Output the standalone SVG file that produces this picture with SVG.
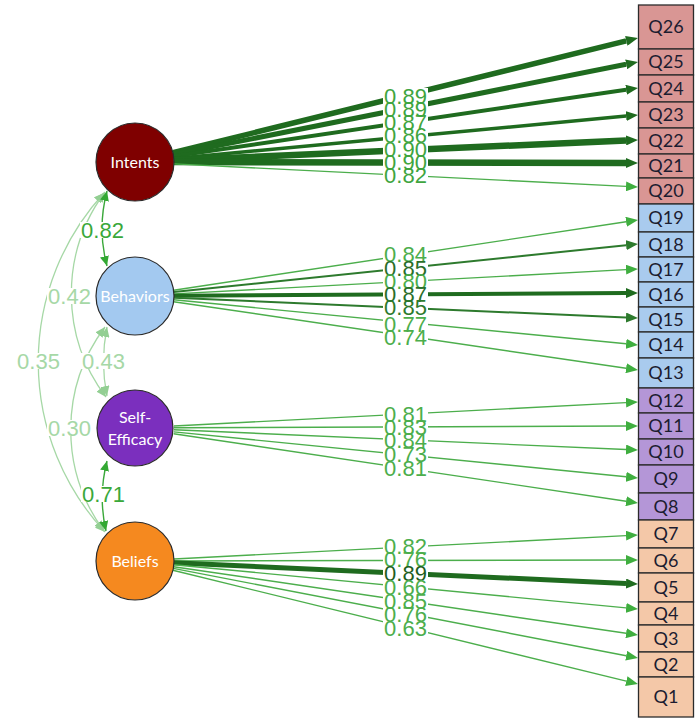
<svg xmlns="http://www.w3.org/2000/svg" width="700" height="721" viewBox="0 0 700 721">
<style>
.ed{stroke:#1f6b1f;fill:none}
.em{stroke:#2d7a2d;fill:none;stroke-width:2}
.el{stroke:#4cae4c;fill:none;stroke-width:1.4}
.cm{stroke:#3aa83a;fill:none;stroke-width:1.4}
.cl{stroke:#a6d8a6;fill:none;stroke-width:1.3}
.lb{font-family:"Liberation Sans",Arial,sans-serif;font-size:22px;text-anchor:middle}
.nt{font-family:Lato,"Liberation Sans",sans-serif;font-size:16px;fill:#ffffff;text-anchor:middle}
.qt{font-family:Lato,"Liberation Sans",sans-serif;font-size:18px;fill:#1c1c30;text-anchor:middle}
.box{stroke:#2b2b2b;stroke-width:1.3}
.ci{stroke:#2a2a2a;stroke-width:1.2}
</style>
<defs>
<marker id="ad" markerUnits="userSpaceOnUse" markerWidth="12" markerHeight="10" viewBox="0 0 12 10" refX="0" refY="5" orient="auto"><path d="M0,0 L12,5 L0,10 z" fill="#1f6b1f"/></marker>
<marker id="am" markerUnits="userSpaceOnUse" markerWidth="12" markerHeight="10" viewBox="0 0 12 10" refX="0" refY="5" orient="auto"><path d="M0,0 L12,5 L0,10 z" fill="#2d7a2d"/></marker>
<marker id="al" markerUnits="userSpaceOnUse" markerWidth="12" markerHeight="10" viewBox="0 0 12 10" refX="0" refY="5" orient="auto"><path d="M0,0 L12,5 L0,10 z" fill="#3fae3f"/></marker>
<marker id="cm" markerUnits="userSpaceOnUse" markerWidth="10" markerHeight="9" viewBox="0 0 10 9" refX="10" refY="4.5" orient="auto-start-reverse"><path d="M0,0 L10,4.5 L0,9 z" fill="#33a833"/></marker>
<marker id="cl" markerUnits="userSpaceOnUse" markerWidth="10" markerHeight="9" viewBox="0 0 10 9" refX="10" refY="4.5" orient="auto-start-reverse"><path d="M0,0 L10,4.5 L0,9 z" fill="#93cf93"/></marker>
</defs>

<g id="connectors">
<line class="ed" stroke-width="5.5" x1="172.9" y1="152.7" x2="626.3" y2="40.9" marker-end="url(#ad)"/>
<line class="ed" stroke-width="5" x1="173.3" y1="154.4" x2="626.2" y2="64.3" marker-end="url(#ad)"/>
<line class="ed" stroke-width="4" x1="173.6" y1="156.3" x2="626.1" y2="89.7" marker-end="url(#ad)"/>
<line class="ed" stroke-width="3.5" x1="173.8" y1="158.4" x2="626.1" y2="116.1" marker-end="url(#ad)"/>
<line class="ed" stroke-width="6.5" x1="174" y1="160.3" x2="626" y2="140.5" marker-end="url(#ad)"/>
<line class="ed" stroke-width="6.5" x1="174" y1="162.1" x2="626" y2="163" marker-end="url(#ad)"/>
<line class="el" x1="174" y1="163.9" x2="626" y2="186.4" marker-end="url(#al)"/>
<line class="el" x1="173.6" y1="290.2" x2="626.1" y2="221.8" marker-end="url(#al)"/>
<line class="em" x1="173.8" y1="292" x2="626.1" y2="245.2" marker-end="url(#am)"/>
<line class="el" x1="173.9" y1="293.9" x2="626" y2="269.6" marker-end="url(#al)"/>
<line class="ed" stroke-width="4" x1="174" y1="295.8" x2="626" y2="293.1" marker-end="url(#ad)"/>
<line class="em" x1="174" y1="297.7" x2="626" y2="317.5" marker-end="url(#am)"/>
<line class="el" x1="173.8" y1="299.8" x2="626.1" y2="343.8" marker-end="url(#al)"/>
<line class="el" x1="173.6" y1="301.7" x2="626.1" y2="368.3" marker-end="url(#al)"/>
<line class="el" x1="174" y1="426" x2="626" y2="402.6" marker-end="url(#al)"/>
<line class="el" x1="174" y1="427.8" x2="626" y2="426" marker-end="url(#al)"/>
<line class="el" x1="174" y1="429.7" x2="626" y2="449.5" marker-end="url(#al)"/>
<line class="el" x1="173.8" y1="431.9" x2="626.1" y2="476.8" marker-end="url(#al)"/>
<line class="el" x1="173.6" y1="433.8" x2="626.1" y2="501.2" marker-end="url(#al)"/>
<line class="el" x1="174" y1="559" x2="626" y2="535.6" marker-end="url(#al)"/>
<line class="el" x1="174" y1="561" x2="626" y2="560" marker-end="url(#al)"/>
<line class="ed" stroke-width="5" x1="174" y1="562.8" x2="626" y2="583.5" marker-end="url(#ad)"/>
<line class="el" x1="173.8" y1="564.7" x2="626.1" y2="607.9" marker-end="url(#al)"/>
<line class="el" x1="173.6" y1="566.7" x2="626.1" y2="633.3" marker-end="url(#al)"/>
<line class="el" x1="173.3" y1="568.4" x2="626.2" y2="655.7" marker-end="url(#al)"/>
<line class="el" x1="172.9" y1="570.3" x2="626.3" y2="681.1" marker-end="url(#al)"/>
<path class="cl" d="M104,193 A250,250 0 0,0 105,532" marker-start="url(#cl)" marker-end="url(#cl)"/>
<path class="cl" d="M105,192 A171,171 0 0,0 106,397" marker-start="url(#cl)" marker-end="url(#cl)"/>
<path class="cl" d="M105,327 A171,171 0 0,0 104,531" marker-start="url(#cl)" marker-end="url(#cl)"/>
<path class="cl" d="M107,327 Q100,362 107,396" marker-start="url(#cl)" marker-end="url(#cl)"/>
<path class="cm" d="M107,191 Q97,229 107,266" marker-start="url(#cm)" marker-end="url(#cm)"/>
<path class="cm" d="M107,461 Q98,496 106,531" marker-start="url(#cm)" marker-end="url(#cm)"/>
</g>

<g id="edge-labels">
<g fill="#ffffff">
<rect x="383" y="88" width="45" height="95"/>
<rect x="383" y="246" width="45" height="100"/>
<rect x="383" y="406" width="45" height="70"/>
<rect x="383" y="538" width="45" height="98"/>
<rect x="80" y="222" width="45" height="16"/>
<rect x="47" y="288" width="45" height="16"/>
<rect x="16" y="353" width="45" height="16"/>
<rect x="81" y="353" width="45" height="16"/>
<rect x="47" y="420" width="45" height="16"/>
<rect x="81" y="486" width="45" height="16"/>
</g>
<g class="lb" fill="#3fa53f">
<text x="405.5" y="104">0.89</text>
<text x="405.5" y="117">0.89</text>
<text x="405.5" y="130">0.87</text>
<text x="405.5" y="143">0.86</text>
<text x="405.5" y="157">0.90</text>
<text x="405.5" y="170">0.90</text>
<text x="405.5" y="183">0.82</text>
</g>
<g class="lb">
<text x="405.5" y="262" fill="#4cae4c">0.84</text>
<text x="405.5" y="276" fill="#2a6e2a">0.85</text>
<text x="405.5" y="289" fill="#4cae4c">0.80</text>
<text x="405.5" y="302" fill="#2a6e2a">0.87</text>
<text x="405.5" y="315" fill="#2d7a2d">0.85</text>
<text x="405.5" y="332" fill="#4cae4c">0.77</text>
<text x="405.5" y="345" fill="#4cae4c">0.74</text>
</g>
<g class="lb" fill="#4cae4c">
<text x="405.5" y="422">0.81</text>
<text x="405.5" y="435">0.83</text>
<text x="405.5" y="448">0.84</text>
<text x="405.5" y="462">0.73</text>
<text x="405.5" y="476">0.81</text>
</g>
<g class="lb">
<text x="405.5" y="554" fill="#4cae4c">0.82</text>
<text x="405.5" y="567" fill="#4cae4c">0.76</text>
<text x="405.5" y="581" fill="#1f5f1f">0.89</text>
<text x="405.5" y="595" fill="#4cae4c">0.66</text>
<text x="405.5" y="609" fill="#4cae4c">0.85</text>
<text x="405.5" y="622" fill="#4cae4c">0.76</text>
<text x="405.5" y="636" fill="#4cae4c">0.63</text>
</g>
<g class="lb">
<text x="102.5" y="238" fill="#3aa83a">0.82</text>
<text x="69.5" y="304" fill="#a6d8a6">0.42</text>
<text x="38.5" y="369" fill="#a6d8a6">0.35</text>
<text x="103.5" y="369" fill="#a6d8a6">0.43</text>
<text x="69.5" y="436" fill="#a6d8a6">0.30</text>
<text x="103.5" y="502" fill="#3aa83a">0.71</text>
</g>
</g>

<g id="Intents"><circle class="ci" cx="135" cy="162" r="39" fill="#7f0000"/><text class="nt" x="135" y="167.5" fill="#f3e0e0">Intents</text></g>
<g id="Behaviors"><circle class="ci" cx="135" cy="296" r="39" fill="#a3c9f0"/><text class="nt" x="135" y="301.5">Behaviors</text></g>
<g id="SelfEfficacy"><circle class="ci" cx="135" cy="428" r="38" fill="#7b2fbe"/><text class="nt" x="135" y="423">Self-</text><text class="nt" x="135" y="445">Efficacy</text></g>
<g id="Beliefs"><circle class="ci" cx="135" cy="561" r="39" fill="#f5891f"/><text class="nt" x="135" y="566.5">Beliefs</text></g>

<g id="Q26"><rect class="box" x="638.5" y="5" width="55" height="44" fill="#d99694"/><text class="qt" x="666" y="33">Q26</text></g>
<g id="Q25"><rect class="box" x="638.5" y="49" width="55" height="26" fill="#d99694"/><text class="qt" x="666" y="68">Q25</text></g>
<g id="Q24"><rect class="box" x="638.5" y="75" width="55" height="27" fill="#d99694"/><text class="qt" x="666" y="95">Q24</text></g>
<g id="Q23"><rect class="box" x="638.5" y="102" width="55" height="26" fill="#d99694"/><text class="qt" x="666" y="121">Q23</text></g>
<g id="Q22"><rect class="box" x="638.5" y="128" width="55" height="26" fill="#d99694"/><text class="qt" x="666" y="147">Q22</text></g>
<g id="Q21"><rect class="box" x="638.5" y="154" width="55" height="24" fill="#d99694"/><text class="qt" x="666" y="172">Q21</text></g>
<g id="Q20"><rect class="box" x="638.5" y="178" width="55" height="26" fill="#d99694"/><text class="qt" x="666" y="197">Q20</text></g>
<g id="Q19"><rect class="box" x="638.5" y="204" width="55" height="28" fill="#a9cbee"/><text class="qt" x="666" y="224">Q19</text></g>
<g id="Q18"><rect class="box" x="638.5" y="232" width="55" height="25" fill="#a9cbee"/><text class="qt" x="666" y="250.5">Q18</text></g>
<g id="Q17"><rect class="box" x="638.5" y="257" width="55" height="25" fill="#a9cbee"/><text class="qt" x="666" y="275.5">Q17</text></g>
<g id="Q16"><rect class="box" x="638.5" y="282" width="55" height="25" fill="#a9cbee"/><text class="qt" x="666" y="300.5">Q16</text></g>
<g id="Q15"><rect class="box" x="638.5" y="307" width="55" height="25" fill="#a9cbee"/><text class="qt" x="666" y="325.5">Q15</text></g>
<g id="Q14"><rect class="box" x="638.5" y="332" width="55" height="26" fill="#a9cbee"/><text class="qt" x="666" y="351">Q14</text></g>
<g id="Q13"><rect class="box" x="638.5" y="358" width="55" height="30" fill="#a9cbee"/><text class="qt" x="666" y="379">Q13</text></g>
<g id="Q12"><rect class="box" x="638.5" y="388" width="55" height="25" fill="#b496d7"/><text class="qt" x="666" y="406.5">Q12</text></g>
<g id="Q11"><rect class="box" x="638.5" y="413" width="55" height="26" fill="#b496d7"/><text class="qt" x="666" y="432">Q11</text></g>
<g id="Q10"><rect class="box" x="638.5" y="439" width="55" height="26" fill="#b496d7"/><text class="qt" x="666" y="458">Q10</text></g>
<g id="Q9"><rect class="box" x="638.5" y="465" width="55" height="28" fill="#b496d7"/><text class="qt" x="666" y="485">Q9</text></g>
<g id="Q8"><rect class="box" x="638.5" y="493" width="55" height="27" fill="#b496d7"/><text class="qt" x="666" y="512.5">Q8</text></g>
<g id="Q7"><rect class="box" x="638.5" y="520" width="55" height="28" fill="#f4c8a8"/><text class="qt" x="666" y="540">Q7</text></g>
<g id="Q6"><rect class="box" x="638.5" y="548" width="55" height="25" fill="#f4c8a8"/><text class="qt" x="666" y="566.5">Q6</text></g>
<g id="Q5"><rect class="box" x="638.5" y="573" width="55" height="29" fill="#f4c8a8"/><text class="qt" x="666" y="593.5">Q5</text></g>
<g id="Q4"><rect class="box" x="638.5" y="602" width="55" height="23" fill="#f4c8a8"/><text class="qt" x="666" y="619.5">Q4</text></g>
<g id="Q3"><rect class="box" x="638.5" y="625" width="55" height="27" fill="#f4c8a8"/><text class="qt" x="666" y="644.5">Q3</text></g>
<g id="Q2"><rect class="box" x="638.5" y="652" width="55" height="25" fill="#f4c8a8"/><text class="qt" x="666" y="670.5">Q2</text></g>
<g id="Q1"><rect class="box" x="638.5" y="677" width="55" height="40" fill="#f4c8a8"/><text class="qt" x="666" y="703">Q1</text></g>
</svg>
